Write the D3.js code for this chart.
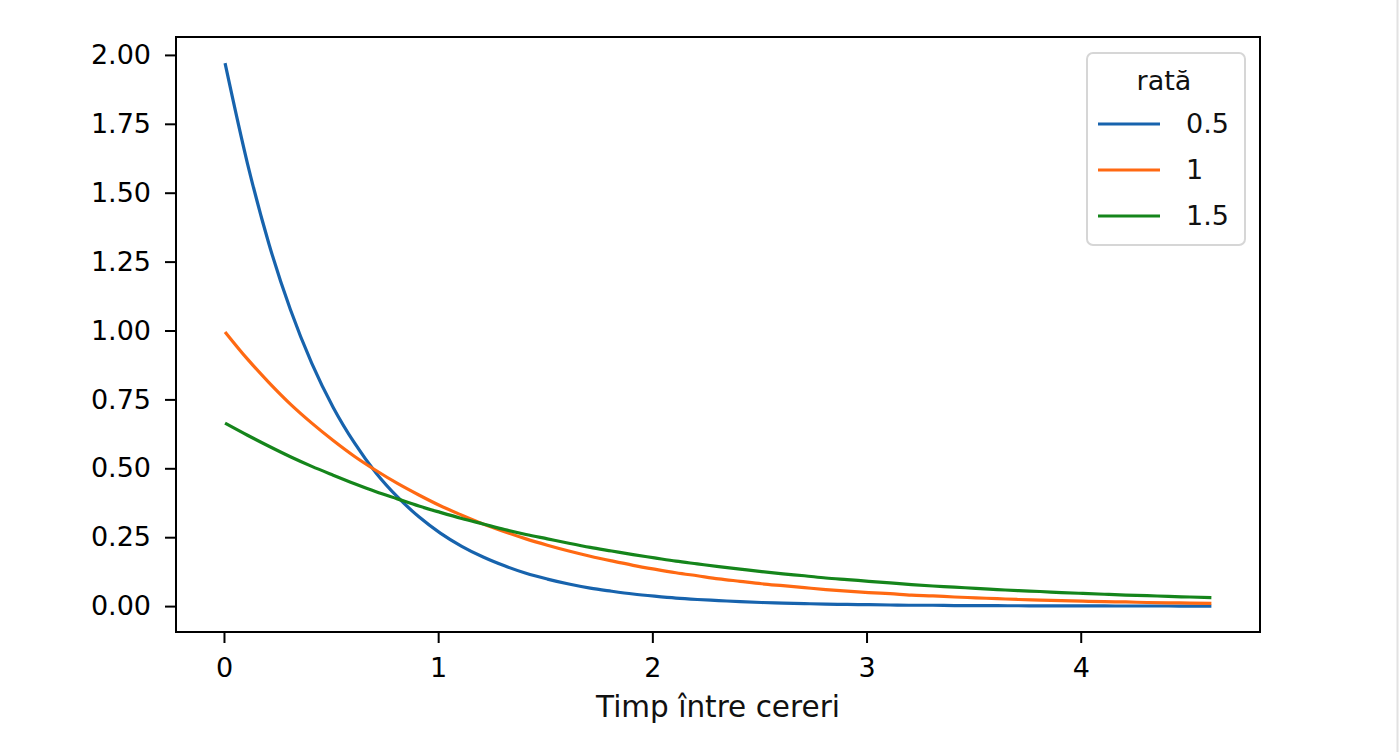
<!DOCTYPE html>
<html lang="ro">
  <head>
    <meta charset="utf-8">
    <title>Timp între cereri</title>
    <script src="https://cdn.jsdelivr.net/npm/d3@7"></script>
    <style>
    body{margin:0;background:#fff;}
    .axis line{stroke:#000;stroke-width:2px;}
    .axis path{display:none;}
    .axis text{font-family:"DejaVu Sans",sans-serif;font-size:27px;fill:#000;}
    svg text{font-family:"DejaVu Sans",sans-serif;fill:#111;}
    </style>
  </head>
  <body>
    <svg></svg>
    <script>
      // timpi (x) si densitatea citita de pe grafic pentru fiecare rata
      var timp=[0.005,0.11,0.21,0.31,0.41,0.51,0.61,0.71,0.81,0.91,
                1.01,1.11,1.21,1.31,1.41,1.51,1.61,1.71,1.81,1.91,
                2.01,2.11,2.21,2.31,2.41,2.51,2.61,2.71,2.81,2.91,
                3.01,3.11,3.21,3.31,3.41,3.51,3.61,3.71,3.81,3.91,
                4.01,4.11,4.21,4.31,4.41,4.51,4.61];
      var rata05=[1.970,1.605,1.314,1.076,0.881,0.721,0.591,0.483,0.396,0.324,
                  0.265,0.217,0.178,0.146,0.119,0.098,0.080,0.065,0.054,0.044,
                  0.036,0.029,0.024,0.020,0.016,0.013,0.011,0.009,0.007,0.006,
                  0.005,0.004,0.003,0.003,0.002,0.002,0.0015,0.0012,0.0010,0.0008,
                  0.0007,0.0005,0.0004,0.0004,0.0003,0.0002,0.0002];
      var rata1=[0.995,0.896,0.811,0.733,0.664,0.601,0.543,0.492,0.445,0.403,
                 0.364,0.330,0.298,0.270,0.244,0.221,0.200,0.181,0.164,0.148,
                 0.134,0.121,0.110,0.099,0.090,0.081,0.074,0.067,0.060,0.054,
                 0.049,0.045,0.040,0.037,0.033,0.030,0.027,0.024,0.022,0.020,
                 0.018,0.016,0.015,0.013,0.012,0.011,0.010];
      var rata15=[0.664,0.620,0.580,0.542,0.507,0.475,0.444,0.415,0.389,0.363,
                  0.340,0.318,0.298,0.278,0.260,0.244,0.228,0.213,0.200,0.187,
                  0.175,0.163,0.153,0.143,0.134,0.125,0.117,0.110,0.102,0.096,
                  0.090,0.084,0.078,0.073,0.069,0.064,0.060,0.056,0.053,0.049,
                  0.046,0.043,0.040,0.038,0.035,0.033,0.031];
      var serii=["0.5","1","1.5"];
      var culori=["#1763ad","#ff6912","#15851b"];
      var yTicks=[0,0.25,0.5,0.75,1,1.25,1.5,1.75,2];
      var xTicks=[0,1,2,3,4];

      var width=1399;
      var height=752;
      var m={left:176,right:1260,top:37,bottom:632};

      var svg=d3.select("svg")
                .attr("width",width)
                .attr("height",height);

      var xscale=d3.scaleLinear()
                   .domain([-0.224,4.837])
                   .range([m.left,m.right]);
      var yscale=d3.scaleLinear()
                   .domain([-0.094,2.065])
                   .range([m.bottom,m.top]);

      // faint border on the right edge of the picture
      svg.append("line")
         .attr("x1",width-1.5).attr("x2",width-1.5)
         .attr("y1",0).attr("y2",height)
         .attr("stroke","#e2e2e2")
         .attr("stroke-width",2);

      var valori=[rata05,rata1,rata15];
      var line=d3.line()
                 .x(function(d){return xscale(d[0]);})
                 .y(function(d){return yscale(d[1]);})
                 .curve(d3.curveMonotoneX);

      svg.selectAll("path.serie")
         .data(valori)
         .enter()
         .append("path")
         .attr("class","serie")
         .attr("fill","none")
         .attr("stroke",function(d,i){return culori[i];})
         .attr("stroke-width",3.2)
         .attr("d",function(v){
           return line(timp.map(function(t,j){return [t,v[j]];}));
         });

      var xAxis=d3.axisBottom(xscale)
                  .tickValues(xTicks)
                  .tickFormat(d3.format("d"))
                  .tickSize(11)
                  .tickPadding(15);
      var yAxis=d3.axisLeft(yscale)
                  .tickValues(yTicks)
                  .tickFormat(d3.format(".2f"))
                  .tickSize(11)
                  .tickPadding(14);

      svg.append("g")
         .attr("class","axis")
         .attr("transform","translate(0,"+m.bottom+")")
         .call(xAxis);
      svg.append("g")
         .attr("class","axis")
         .attr("transform","translate("+m.left+",0)")
         .call(yAxis);

      svg.append("rect")
         .attr("x",m.left)
         .attr("y",m.top)
         .attr("width",m.right-m.left)
         .attr("height",m.bottom-m.top)
         .attr("fill","none")
         .attr("stroke","#000")
         .attr("stroke-width",2);

      svg.append("text")
         .attr("x",(m.left+m.right)/2)
         .attr("y",717)
         .attr("text-anchor","middle")
         .attr("font-size",29.5)
         .text("Timp între cereri");

      // legend
      var legend=svg.append("g");
      legend.append("rect")
            .attr("x",1087).attr("y",53)
            .attr("width",158).attr("height",192)
            .attr("rx",6)
            .attr("fill","#fff")
            .attr("fill-opacity",0.8)
            .attr("stroke","#d6d6d6")
            .attr("stroke-width",2);
      legend.append("text")
            .attr("x",1164).attr("y",90)
            .attr("text-anchor","middle")
            .attr("font-size",27)
            .text("rată");
      var item=legend.selectAll("g.item")
                     .data(serii)
                     .enter()
                     .append("g")
                     .attr("class","item")
                     .attr("transform",function(d,i){return "translate(0,"+(124+i*46)+")";});
      item.append("line")
          .attr("x1",1098).attr("x2",1160)
          .attr("stroke",function(d,i){return culori[i];})
          .attr("stroke-width",3.2);
      item.append("text")
          .attr("x",1186)
          .attr("dy","0.35em")
          .attr("font-size",27)
          .text(function(d){return d;});
    </script>
  </body>
</html>
